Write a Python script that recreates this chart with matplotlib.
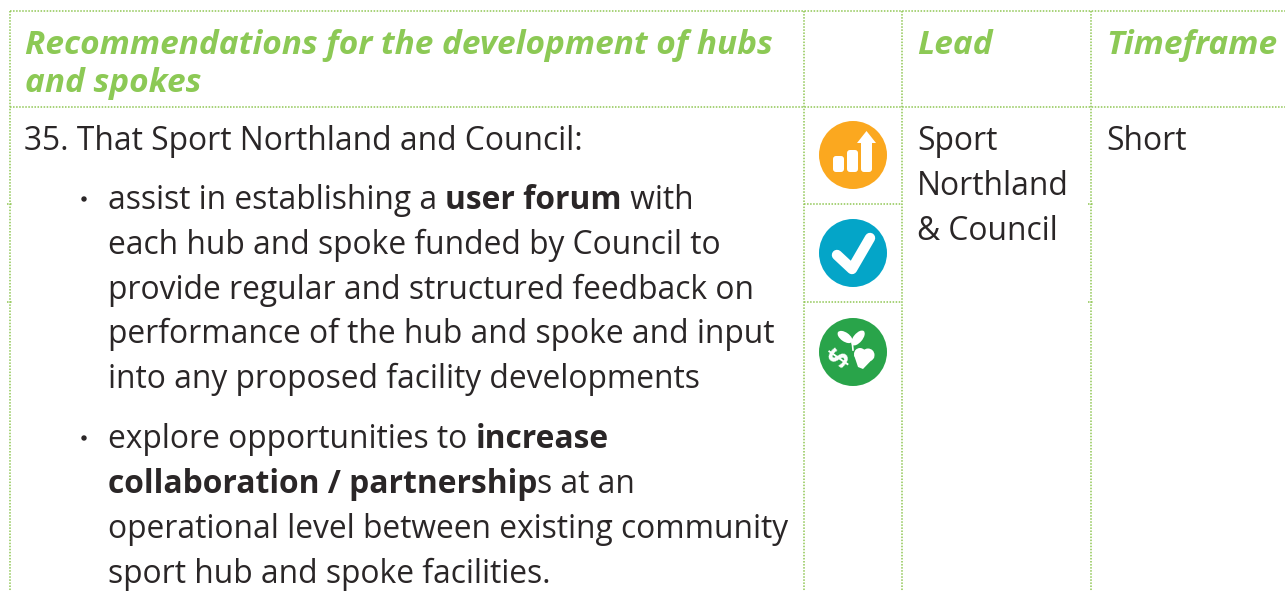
import matplotlib
matplotlib.use('Agg')
import matplotlib.pyplot as plt
from matplotlib.patches import Circle, Polygon, FancyBboxPatch, Ellipse

plt.rcParams['font.family'] = ['Open Sans', 'DejaVu Sans']

GREEN = '#8cc955'
LINE = '#8fc653'
INK = '#2a2627'

header_lines = ['Recommendations for the development of hubs', 'and spokes']
header_lead = 'Lead'
header_time = 'Timeframe'
intro = '35. That Sport Northland and Council:'
lead_lines = ['Sport', 'Northland', '& Council']
time_text = 'Short'

# each line is a list of (text, bold) runs
bullet_one = [
    [('assist in establishing a ', False), ('user forum', True), (' with', False)],
    [('each hub and spoke funded by Council to', False)],
    [('provide regular and structured feedback on', False)],
    [('performance of the hub and spoke and input', False)],
    [('into any proposed facility developments', False)],
]
bullet_two = [
    [('explore opportunities to ', False), ('increase', True)],
    [('collaboration / partnership', True), ('s at an', False)],
    [('operational level between existing community', False)],
    [('sport hub and spoke facilities.', False)],
]

fig = plt.figure(figsize=(12.85, 5.91), dpi=100)
ax = fig.add_axes([0, 0, 1, 1])
ax.set_xlim(0, 1285)
ax.set_ylim(591, 0)
ax.axis('off')

# table rules
dots = dict(color=LINE, lw=1.1, ls=(0, (1, 1)))
for x in [10, 804, 902, 1091]:
    ax.plot([x, x], [11, 591], **dots)
ax.plot([10, 1285], [11, 11], **dots)
ax.plot([10, 1285], [107, 107], **dots)
ax.plot([804, 902], [204, 204], **dots)
ax.plot([804, 902], [302, 302], **dots)
# little marks where hidden rows meet the outer rules
for x in [10, 1091]:
    for y in [204, 302]:
        ax.plot([x - 3, x + 3], [y, y], **dots)

# header
hsize = 24
for y, t in zip([54, 92], header_lines):
    ax.text(25, y, t, color=GREEN, fontsize=hsize, fontweight='bold', style='italic', va='baseline')
ax.text(917, 54, header_lead, color=GREEN, fontsize=hsize, fontweight='bold', style='italic', va='baseline')
ax.text(1106, 54, header_time, color=GREEN, fontsize=hsize, fontweight='bold', style='italic', va='baseline')

# body
bsize = 22.9
ax.text(24, 150, intro, color=INK, fontsize=bsize, va='baseline')
for y, t in zip([150, 195, 240], lead_lines):
    ax.text(917, y, t, color=INK, fontsize=bsize, va='baseline')
ax.text(1106, 150, time_text, color=INK, fontsize=bsize, va='baseline')


def draw_runs(x, y, runs):
    r = fig.canvas.get_renderer()
    for t, bold in runs:
        txt = ax.text(x, y, t, color=INK, fontsize=bsize, va='baseline',
                      fontweight='bold' if bold else 'normal')
        x = ax.transData.inverted().transform(txt.get_window_extent(r))[1][0]


for y, runs in zip([209, 254, 299, 343, 388], bullet_one):
    draw_runs(108, y, runs)
for y, runs in zip([448, 493, 538, 583], bullet_two):
    draw_runs(108, y, runs)
ax.add_patch(Circle((84, 199), 2, color=INK))
ax.add_patch(Circle((84, 438), 2, color=INK))

# icons
cx = 853
ax.add_patch(Circle((cx, 155), 34, color='#fba81f', lw=0))
for x0, top in [(833, 156), (847, 150)]:
    ax.add_patch(FancyBboxPatch((x0 + 3, top + 3), 5, 172 - top - 6, boxstyle='round,pad=3,rounding_size=3',
                                fc='white', ec='none'))
ax.add_patch(FancyBboxPatch((864, 143), 5, 26, boxstyle='round,pad=3,rounding_size=3', fc='white', ec='none'))
ax.add_patch(Polygon([[857, 143], [866.5, 131], [876, 143]], fc='white', ec='none'))

ax.add_patch(Circle((cx, 253), 34, color='#04a5c8', lw=0))
ax.plot([837, 852, 870], [255, 269, 238], color='white', lw=7.5, solid_capstyle='round',
        solid_joinstyle='round')

ax.add_patch(Circle((cx, 352), 34, color='#29a44a', lw=0))
ax.add_patch(Ellipse((845, 337), 17, 9, angle=35, fc='white', ec='none'))
ax.add_patch(Ellipse((858, 338), 18, 9, angle=-50, fc='white', ec='none'))
ax.plot([852, 853], [340, 350], color='white', lw=1.2)
ax.add_patch(Circle((860, 354), 6, fc='white', ec='none'))
ax.add_patch(Circle((868, 355), 6.5, fc='white', ec='none'))
ax.add_patch(Polygon([[854, 355], [874.5, 357], [863, 369], [858, 367]], fc='white', ec='none'))
ax.text(841, 358, '\\$', color='white', fontsize=20, fontweight='bold', rotation=55,
        ha='center', va='center')

fig.savefig('out.png', dpi=100)
